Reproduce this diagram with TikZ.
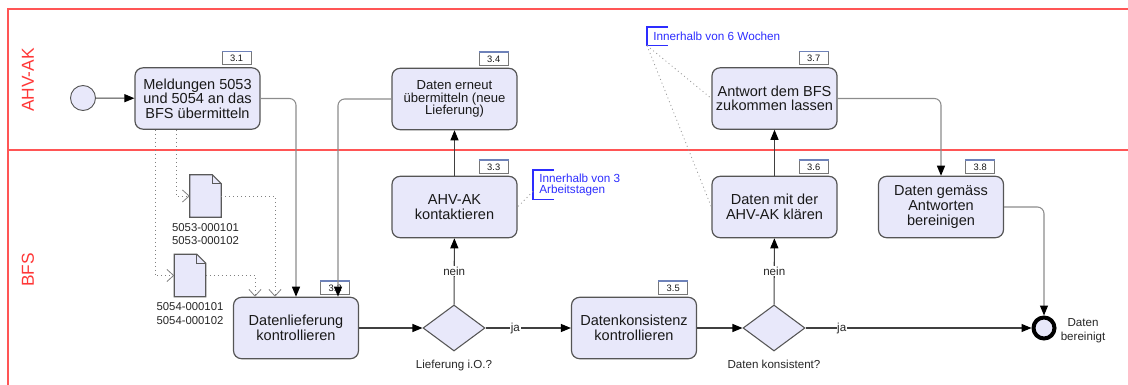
\documentclass[tikz,border=0pt]{standalone}
\usepackage{fontspec}
\setmainfont{Liberation Sans}
\usetikzlibrary{shapes.geometric,arrows.meta,positioning,calc}

\definecolor{lanered}{RGB}{255,85,85}
\definecolor{labelred}{RGB}{255,55,55}
\definecolor{taskfill}{RGB}{232,232,250}
\definecolor{taskdraw}{RGB}{85,85,85}
\definecolor{badgetop}{RGB}{110,130,185}
\definecolor{notecol}{RGB}{45,45,255}
\definecolor{flowgray}{RGB}{140,140,140}

\begin{document}
\begin{tikzpicture}[x=0.75pt, y=-0.75pt,
    task/.style={draw=taskdraw, line width=0.9pt, rounded corners=6pt, fill=taskfill, minimum width=93.75pt, minimum height=46pt, align=center, inner sep=1pt, text=black!90, font=\fontsize{10.9}{10.9}\selectfont},
    badge/.style={draw=taskdraw!80, line width=0.6pt, fill=white, minimum width=21.75pt, minimum height=9.75pt, inner sep=0pt, text=black!90, font=\fontsize{7}{7}\selectfont},
    gate/.style={diamond, draw=taskdraw, line width=0.8pt, fill=taskfill, minimum width=46.5pt, minimum height=34.5pt, inner sep=0pt},
    doc/.style={minimum width=23.25pt, minimum height=31.5pt, inner sep=0pt},
    small/.style={font=\fontsize{8.7}{10}\selectfont, text=black!85, align=center, inner sep=0pt},
    flow/.style={draw=black!75, line width=0.8pt, -{Triangle[length=7.5pt,width=6pt,color=black]}},
    flowelbow/.style={flow, draw=flowgray, rounded corners=5pt},
    assoc/.style={draw=gray, line width=0.6pt, dash pattern=on 0.75pt off 2.25pt, -{Straight Barb[length=5pt,width=9pt]}},
    noteline/.style={draw=gray!80, line width=0.6pt, dash pattern=on 0.75pt off 2.25pt},
    note/.style={text=notecol, font=\fontsize{8.8}{8.3}\selectfont, align=left, anchor=north west, inner ysep=0pt, inner xsep=4.5pt},
    lbl/.style={small, fill=white, inner sep=0.5pt},
    lane/.style={text=labelred, rotate=90, font=\fontsize{13}{13}\selectfont}
  ]
  \useasboundingbox (0,0) rectangle (1128,385);

  % pool and lanes
  \draw[lanered, line width=1.1pt] (8,385) -- (8,9) -- (1128,9);
  \draw[lanered, line width=1.1pt] (8,150) -- (1128,150);
  \node[lane] (ahv) at (28,80) {AHV-AK};
  \node[lane] (bfs) at (28,270) {BFS};

  % events and tasks
  \node[circle, draw=taskdraw, line width=0.7pt, fill=taskfill, minimum size=18.75pt, inner sep=0pt] (start) at (83,98) {};
  \node[task] (t31) at (197.5,98.5) {Meldungen 5053\\und 5054 an das\\BFS übermitteln};
  \node[task] (t32) at (296,328) {Datenlieferung\\kontrollieren};
  \node[task] (t33) at (454.5,207) {AHV-AK\\kontaktieren};
  \node[task, font=\fontsize{9.8}{9.4}\selectfont] (t34) at (454.5,99) {Daten erneut\\übermitteln (neue\\Lieferung)};
  \node[task] (t35) at (634,328) {Datenkonsistenz\\kontrollieren};
  \node[task] (t36) at (774.5,207) {Daten mit der\\AHV-AK klären};
  \node[task] (t37) at (774.5,98.5) {Antwort dem BFS\\zukommen lassen};
  \node[task] (t38) at (941,207) {Daten gemäss\\Antworten\\bereinigen};

  \foreach \t/\n in {t31/3.1, t32/3.2, t33/3.3, t34/3.4, t35/3.5, t36/3.6, t37/3.7, t38/3.8} {
    \node[badge, above left=1.5pt and 6.75pt of \t.north east] (b\t) {\n};
    \draw[badgetop, line width=0.9pt] (b\t.north west) -- (b\t.north east);
  }

  \node[gate] (gw1) at (454,328) {};
  \node[gate] (gw2) at (774,328) {};
  \node[small, below=6pt of gw1] (q1) {Lieferung i.O.?};
  \node[small, below=6pt of gw2] (q2) {Daten konsistent?};

  \node[circle, draw=black, line width=3pt, fill=taskfill, minimum size=15.75pt, inner sep=0pt] (end) at (1044,328) {};
  \node[small, right=3pt of end, yshift=-2pt] (endlbl) {Daten\\bereinigt};

  % data objects
  \node[doc] (d1) at (205.5,196) {};
  \node[doc] (d2) at (190,275.5) {};
  \foreach \d in {d1,d2} {
    \draw[draw=gray!70!black, fill=taskfill, line width=0.8pt] (\d.south west) -- (\d.north west) -- ([xshift=-6.75pt]\d.north east) -- ([yshift=-6.75pt]\d.north east) -- (\d.south east) -- cycle;
    \draw[gray!70!black, line width=0.6pt] ([xshift=-6.75pt]\d.north east) |- ([yshift=-6.75pt]\d.north east);
  }
  \node[small, below=4.5pt of d1, font=\fontsize{8.5}{10}\selectfont] (l1) {5053-000101\\5053-000102};
  \node[small, below=4.5pt of d2, font=\fontsize{8.5}{10}\selectfont] (l2) {5054-000101\\5054-000102};

  % annotations
  \node[note, minimum height=21.75pt] (n1) at (533,170) {Innerhalb von 3\\Arbeitstagen};
  \node[note, minimum height=13.5pt] (n2) at (647,27) {Innerhalb von 6 Wochen};
  \draw[notecol, line width=0.8pt] ([xshift=15.75pt]n1.north west) -| (n1.south west) -- ++(15.75pt,0);
  \draw[notecol, line width=0.8pt] ([xshift=15.75pt]n2.north west) -| (n2.south west) -- ++(15.75pt,0);
  \draw[noteline] ([yshift=-5pt]n1.west) -- (t33.east);
  \draw[noteline] (n2.south west) -- (t37.west);
  \draw[noteline] (n2.south west) -- (t36.west);

  % sequence flows
  \draw[flow] (start) -- (t31);
  \draw[flowelbow] (t31.east) -| (t32.north);
  \draw[flowelbow] (t34.west) -| ([xshift=31.5pt]t32.north);
  \draw[flow] (t32) -- (gw1);
  \draw[flow] (gw1) -- node[lbl, pos=0.35] {ja} (t35);
  \draw[flow] (gw1) -- node[lbl] {nein} (t33);
  \draw[flow] (t33) -- (t34);
  \draw[flow] (t35) -- (gw2);
  \draw[flow] (gw2) -- node[lbl] {nein} (t36);
  \draw[flow] (gw2) -- node[lbl, pos=0.16] {ja} (end);
  \draw[flow] (t36) -- (t37);
  \draw[flowelbow] (t37.east) -| (t38.north);
  \draw[flowelbow] (t38.east) -| (end.north);

  % associations
  \draw[assoc] ([xshift=-31.9pt]t31.south) |- (d2.west);
  \draw[assoc] ([xshift=-16.1pt]t31.south) |- (d1.west);
  \draw[assoc] (d1.east) -| ([xshift=-15.75pt]t32.north);
  \draw[assoc] (d2.east) -| ([xshift=-30.75pt]t32.north);
\end{tikzpicture}
\end{document}
